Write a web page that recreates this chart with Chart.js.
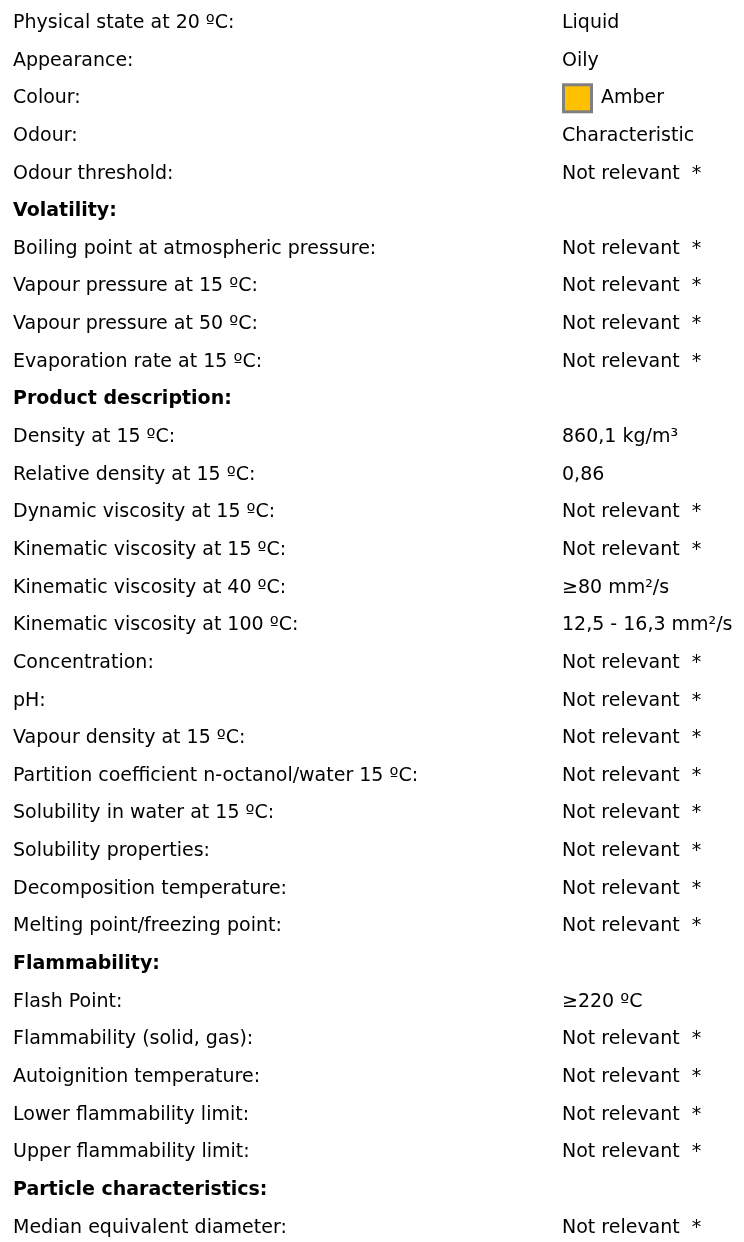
<!DOCTYPE html>
<html>
<head>
<meta charset="utf-8">
<script src="https://cdn.jsdelivr.net/npm/chart.js@4/dist/chart.umd.min.js"></script>
<style>
html, body { margin: 0; padding: 0; background: #fff; }
#wrap { width: 744px; height: 1242px; }
</style>
</head>
<body>
<div id="wrap"><canvas id="eigenschappen" width="744" height="1242"></canvas></div>
<script>
// Eigenschappen links, waarden rechts, kopjes vet
const eigenschappen = [
  'Physical state at 20 ºC:',
  'Appearance:',
  'Colour:',
  'Odour:',
  'Odour threshold:',
  'Volatility:',
  'Boiling point at atmospheric pressure:',
  'Vapour pressure at 15 ºC:',
  'Vapour pressure at 50 ºC:',
  'Evaporation rate at 15 ºC:',
  'Product description:',
  'Density at 15 ºC:',
  'Relative density at 15 ºC:',
  'Dynamic viscosity at 15 ºC:',
  'Kinematic viscosity at 15 ºC:',
  'Kinematic viscosity at 40 ºC:',
  'Kinematic viscosity at 100 ºC:',
  'Concentration:',
  'pH:',
  'Vapour density at 15 ºC:',
  'Partition coefficient n-octanol/water 15 ºC:',
  'Solubility in water at 15 ºC:',
  'Solubility properties:',
  'Decomposition temperature:',
  'Melting point/freezing point:',
  'Flammability:',
  'Flash Point:',
  'Flammability (solid, gas):',
  'Autoignition temperature:',
  'Lower flammability limit:',
  'Upper flammability limit:',
  'Particle characteristics:',
  'Median equivalent diameter:'
];
const NR = 'Not relevant  *';
const waarden = [
  'Liquid', 'Oily', 'Amber', 'Characteristic', NR,
  '',
  NR, NR, NR, NR,
  '',
  '860,1 kg/m³', '0,86', NR, NR, '≥80 mm²/s', '12,5 - 16,3 mm²/s',
  NR, NR, NR, NR, NR, NR, NR, NR,
  '',
  '≥220 ºC', NR, NR, NR, NR,
  '',
  NR
];
const kopjes = ['Volatility:', 'Product description:', 'Flammability:', 'Particle characteristics:'];
const kleurVakjes = { 'Colour:': '#FFC000' };

const FONT = '"DejaVu Sans", Verdana, sans-serif';
const SIZE = 19;

// waarden + kleurvakje tekenen op de hoogte van de y-as
const waardePlugin = {
  id: 'waarden',
  afterDraw(chart) {
    const c = chart.ctx;
    const y = chart.scales.y;
    const x0 = chart.chartArea.left + 2;
    c.save();
    c.font = SIZE + 'px ' + FONT;
    c.fillStyle = '#000';
    c.textBaseline = 'middle';
    c.textAlign = 'left';
    eigenschappen.forEach((naam, i) => {
      const py = y.getPixelForTick(i);
      let x = x0;
      const kleur = kleurVakjes[naam];
      if (kleur) {
        c.fillStyle = '#808080';
        c.fillRect(x, py - 15, 31, 30);
        c.fillStyle = kleur;
        c.fillRect(x + 3, py - 12, 25, 24);
        c.fillStyle = '#000';
        x += 39;
      }
      if (waarden[i]) c.fillText(waarden[i], x, py);
    });
    c.restore();
  }
};

new Chart(document.getElementById('eigenschappen').getContext('2d'), {
  type: 'bar',
  data: {
    labels: eigenschappen,
    datasets: [{ data: eigenschappen.map(() => null) }]
  },
  options: {
    responsive: false,
    animation: false,
    indexAxis: 'y',
    layout: { padding: { left: 13, top: 23, bottom: 10, right: 0 } },
    plugins: { legend: { display: false }, tooltip: { enabled: false } },
    scales: {
      x: { display: false },
      y: {
        offset: false,
        grid: { display: false },
        border: { display: false },
        ticks: {
          autoSkip: false,
          crossAlign: 'far',
          color: '#000',
          font: ctx => ({ family: FONT, size: SIZE, weight: kopjes.includes(eigenschappen[ctx.index]) ? 'bold' : 'normal' })
        },
        afterFit: s => { s.width = 547; }
      }
    }
  },
  plugins: [waardePlugin]
});
</script>
</body>
</html>
